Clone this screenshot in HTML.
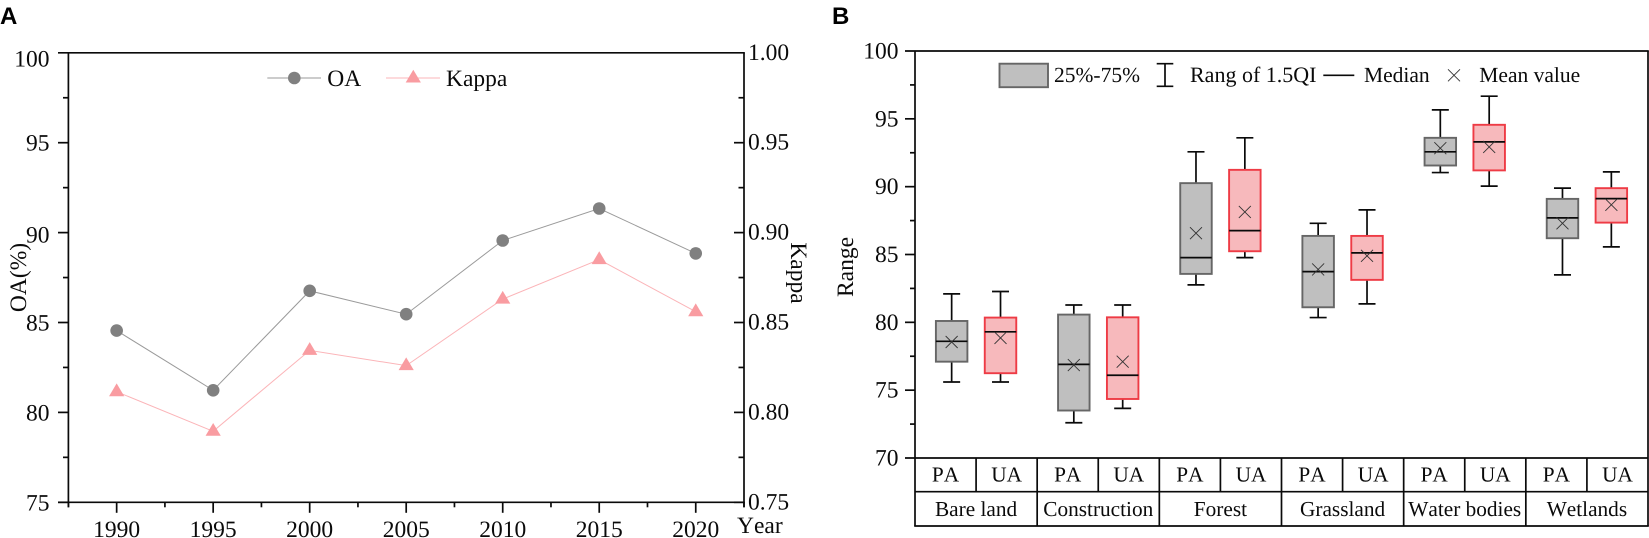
<!DOCTYPE html>
<html lang="en">
<head>
<meta charset="utf-8">
<title>OA and Kappa trends with accuracy box plots</title>
<style>
html,body{margin:0;padding:0;background:#fff;}
svg{display:block;}
text{font-family:"Liberation Serif",serif;fill:#0a0a0a;font-kerning:none;text-rendering:geometricPrecision;}
.panel{font-family:"Liberation Sans",sans-serif;font-weight:bold;font-size:24px;fill:#000;}
</style>
</head>
<body>
<svg id="figure" xmlns="http://www.w3.org/2000/svg" width="1649" height="538" viewBox="0 0 1649 538">
  <text class="panel" x="0" y="24">A</text>
  <text class="panel" x="832" y="24">B</text>
  <g id="chartA"></g>
  <g id="chartB"></g>
</svg>
<script>
// Panel A data
const years = [1990, 1995, 2000, 2005, 2010, 2015, 2020];
const oaValues = [84.55, 81.23, 86.76, 85.46, 89.56, 91.34, 88.84];
const kappaValues = [0.8115, 0.7895, 0.8345, 0.826, 0.863, 0.885, 0.856];
const oaTicks = ["100", "95", "90", "85", "80", "75"];
const kappaTicks = ["1.00", "0.95", "0.90", "0.85", "0.80", "0.75"];

// Panel B data
const categories = ["Bare land", "Construction", "Forest", "Grassland", "Water bodies", "Wetlands"];
const rangeTicks = ["100", "95", "90", "85", "80", "75", "70"];
const paHigh = [82.1, 81.28, 92.57, 87.3, 95.66, 89.89];
const paQ3 = [80.1, 80.57, 90.26, 86.37, 93.6, 89.1];
const paMedian = [78.6, 76.9, 84.77, 83.74, 92.57, 87.7];
const paQ1 = [77.1, 73.5, 83.57, 81.11, 91.56, 86.2];
const paLow = [75.6, 72.6, 82.76, 80.35, 91.04, 83.5];
const paMean = [78.55, 76.85, 86.57, 83.9, 92.84, 87.3];
const uaHigh = [82.27, 81.28, 93.6, 88.29, 96.67, 91.09];
const uaQ3 = [80.35, 80.37, 91.24, 86.37, 94.56, 89.89];
const uaMedian = [79.3, 76.1, 86.76, 85.12, 93.3, 89.12];
const uaQ1 = [76.25, 74.35, 85.24, 83.13, 91.2, 87.35];
const uaLow = [75.6, 73.66, 84.77, 81.36, 90.04, 85.56];
const uaMean = [78.85, 77.1, 88.14, 84.9, 92.93, 88.66];

const NS = "http://www.w3.org/2000/svg";
const chartA = document.getElementById("chartA");
const chartB = document.getElementById("chartB");
const lw = 1.7, ink = "#0a0a0a";

function make(parent, tag, props, content) {
  const el = document.createElementNS(NS, tag);
  for (const k in props) el.setAttribute(k, props[k]);
  if (content !== undefined) el.textContent = content;
  parent.appendChild(el);
  return el;
}
function seg(parent, x1, y1, x2, y2, color, width) {
  return make(parent, "line", {x1: x1, y1: y1, x2: x2, y2: y2, stroke: color, "stroke-width": width});
}
function label(parent, x, y, str, size, anchor, transform) {
  const props = {x: x, y: y, "font-size": size, "text-anchor": anchor || "start"};
  if (transform) props.transform = transform;
  return make(parent, "text", props, str);
}

// ---------- Panel A scales ----------
const aLeft = 68.4, aRight = 744, aTop = 52.8, aBottom = 502.3;
const xMin = 1987.5, xMax = 2022.5;
function xA(year) { return aLeft + (year - xMin) / (xMax - xMin) * (aRight - aLeft); }
function yOA(v) { return aBottom - (v - 75) / 25 * (aBottom - aTop); }
function yKappa(k) { return aBottom - (k - 0.75) / 0.25 * (aBottom - aTop); }

let node;
node = seg(chartA, 58, aTop, aRight + 0.8, aTop, ink, lw);


node = seg(chartA, 58, aBottom, aRight + 0.8, aBottom, ink, lw);


node = seg(chartA, aLeft, aTop, aLeft, aBottom + 5, ink, lw);


node = seg(chartA, aRight, aTop, aRight, aBottom + 5, ink, lw);



// y ticks for both axes
oaTicks.forEach(function (t, i) {
  const v = Number(t);
  const y = yOA(v);
  if (i > 0) {
    const major = seg(chartA, 58, y, aLeft, y, ink, lw);
    
    
    const rightMajor = seg(chartA, aRight - 10, y, aRight, y, ink, lw);
    
    
  }
  if (i < oaTicks.length - 1) {
    const ym = yOA(v - 2.5);
    const minor = seg(chartA, 63, ym, aLeft, ym, ink, lw);
    
    
    const rightMinor = seg(chartA, aRight - 5.5, ym, aRight, ym, ink, lw);
    
    
  }
  const tl = label(chartA, 49.5, y + (i === 0 ? 13.5 : i === 2 ? 10 : 8), t, 23.5, "end");
  
  
});
kappaTicks.forEach(function (t) {
  const tl = label(chartA, 748, yKappa(Number(t)) + 7, t, 23.5);
  
  
});

// x ticks
years.forEach(function (yr) {
  const x = xA(yr);
  const tk = seg(chartA, x, aBottom, x, aBottom + 10.5, ink, lw);
  
  
  const lb = label(chartA, x, 537, String(yr), 23.5, "middle");
  
  
  const xm = xA(yr - 2.5);
  const mt = seg(chartA, xm, aBottom, xm, aBottom + 5, ink, lw);
  
  
});
const lastMinor = seg(chartA, xA(2022.5), aBottom, xA(2022.5), aBottom + 5, ink, lw);



// axis titles
node = label(chartA, 0, 0, "OA(%)", 23.5, "middle", "translate(26 277.5) rotate(-90)");


node = label(chartA, 0, 0, "Kappa", 23.5, "middle", "translate(791 273) rotate(90)");


node = label(chartA, 737, 533, "Year", 23.5);



// series
const oaColor = "#808080", oaLine = "#9a9a9a", kColor = "#f99ca1", kLine = "#fbb4b8";
function triangle(parent, x, y) {
  return make(parent, "polygon", {
    points: (x) + "," + (y - 8.3) + " " + (x + 7.6) + "," + (y + 4.5) + " " + (x - 7.6) + "," + (y + 4.5),
    fill: kColor
  });
}
node = make(chartA, "polyline", {
  points: years.map(function (yr, i) { return xA(yr) + "," + yOA(oaValues[i]); }).join(" "),
  fill: "none", stroke: oaLine, "stroke-width": 1
});


node = make(chartA, "polyline", {
  points: years.map(function (yr, i) { return xA(yr) + "," + yKappa(kappaValues[i]); }).join(" "),
  fill: "none", stroke: kLine, "stroke-width": 1
});


years.forEach(function (yr, i) {
  const c = make(chartA, "circle", {cx: xA(yr), cy: yOA(oaValues[i]), r: 6.3, fill: oaColor});
  
  
  const tr = triangle(chartA, xA(yr), yKappa(kappaValues[i]));
  
  
});

// legend A
const legendA = make(chartA, "g", {});


seg(legendA, 267.3, 78, 321, 78, oaLine, 1);
node = make(legendA, "circle", {cx: 294.3, cy: 78, r: 6.3, fill: oaColor});


node = label(legendA, 327.3, 86, "OA", 23.5);


seg(legendA, 386, 78, 440, 78, kLine, 1);
node = triangle(legendA, 413.3, 78);


node = label(legendA, 446, 86, "Kappa", 23.5);



// ---------- Panel B scales ----------
const bLeft = 915, bRight = 1648, bTop = 51, bBottom = 458, bRow = 491.7, bEnd = 526;
const cellW = (bRight - bLeft) / 12;
function yRange(v) { return bBottom - (v - 70) / 30 * (bBottom - bTop); }
function boxX(cat, kind) { return bLeft + cellW * (2 * cat + kind) + cellW * (kind === 0 ? 0.6 : 0.4); }

node = seg(chartB, 905, bTop, bRight + 0.8, bTop, ink, lw);


node = seg(chartB, 905, bBottom, bRight, bBottom, ink, lw);


node = seg(chartB, bLeft, bRow, bRight, bRow, ink, lw);


node = seg(chartB, bLeft - 0.8, bEnd, bRight + 0.8, bEnd, ink, lw);


node = seg(chartB, bLeft, bTop, bLeft, bEnd, ink, lw);


node = seg(chartB, bRight, bTop, bRight, bEnd, ink, lw);



rangeTicks.forEach(function (t, i) {
  const v = Number(t);
  const y = yRange(v);
  if (i > 0 && i < rangeTicks.length - 1) {
    const tk = seg(chartB, 905, y, bLeft, y, ink, lw);
    
    
  }
  if (i < rangeTicks.length - 1) {
    const ym = yRange(v - 2.5);
    const mt = seg(chartB, 910, ym, bLeft, ym, ink, lw);
    
    
  }
  const tl = label(chartB, 898.5, y + 7.5, t, 23.5, "end");
  
  
});
node = label(chartB, 0, 0, "Range", 23.5, "middle", "translate(853 267) rotate(-90)");



// category table
categories.forEach(function (name, i) {
  const groupX = bLeft + cellW * 2 * i;
  if (i > 0) {
    const dv = seg(chartB, groupX, bBottom, groupX, bEnd, ink, lw);
    
    
  }
  const sv = seg(chartB, groupX + cellW, bBottom, groupX + cellW, bRow, ink, lw);
  
  
  const pa = label(chartB, groupX + cellW / 2, 481.5, "PA", 21.3, "middle");
  
  
  const ua = label(chartB, groupX + cellW * 1.5, 481.5, "UA", 21.3, "middle");
  
  
  const cn = label(chartB, groupX + cellW, 516, name, 21.3, "middle");
  
  
});

// boxes
const boxW = 31.5, capHalf = 8.5, crossHalf = 6;
function cross(parent, x, y) {
  const g = make(parent, "g", {stroke: "#333", "stroke-width": 0.9});
  make(g, "line", {x1: x - crossHalf, y1: y - crossHalf, x2: x + crossHalf, y2: y + crossHalf});
  make(g, "line", {x1: x - crossHalf, y1: y + crossHalf, x2: x + crossHalf, y2: y - crossHalf});
  return g;
}
function drawBox(x, high, q3, med, q1, low, mean, fill, stroke, name) {
  const g = make(chartB, "g", {});
  
  
  seg(g, x, yRange(high), x, yRange(low), ink, lw);
  seg(g, x - capHalf, yRange(high), x + capHalf, yRange(high), ink, lw);
  seg(g, x - capHalf, yRange(low), x + capHalf, yRange(low), ink, lw);
  make(g, "rect", {
    x: x - boxW / 2, y: yRange(q3), width: boxW, height: yRange(q1) - yRange(q3),
    fill: fill, stroke: stroke, "stroke-width": 1.9
  });
  seg(g, x - boxW / 2, yRange(med), x + boxW / 2, yRange(med), ink, lw);
  cross(g, x, yRange(mean));
}
categories.forEach(function (name, i) {
  drawBox(boxX(i, 0), paHigh[i], paQ3[i], paMedian[i], paQ1[i], paLow[i], paMean[i], "#bfbfbf", "#666", "pa-box");
  drawBox(boxX(i, 1), uaHigh[i], uaQ3[i], uaMedian[i], uaQ1[i], uaLow[i], uaMean[i], "#f7b9bc", "#ee3b45", "ua-box");
});

// legend B
const legendB = make(chartB, "g", {});


node = make(legendB, "rect", {x: 999.5, y: 63.7, width: 48.5, height: 23.5, fill: "#bfbfbf", stroke: "#666", "stroke-width": 1.9});


node = label(legendB, 1054, 82, "25%-75%", 21.5);


seg(legendB, 1165, 63.7, 1165, 86.3, ink, lw);
seg(legendB, 1156.7, 63.7, 1173.3, 63.7, ink, lw);
seg(legendB, 1156.7, 86.3, 1173.3, 86.3, ink, lw);
node = label(legendB, 1190, 82, "Rang of 1.5QI", 22);


seg(legendB, 1323.3, 75.3, 1354.3, 75.3, ink, lw);
node = label(legendB, 1364, 82, "Median", 21.5);


node = cross(legendB, 1454, 75.3);


node = label(legendB, 1479.3, 82, "Mean value", 21.5);


</script>
</body>
</html>
